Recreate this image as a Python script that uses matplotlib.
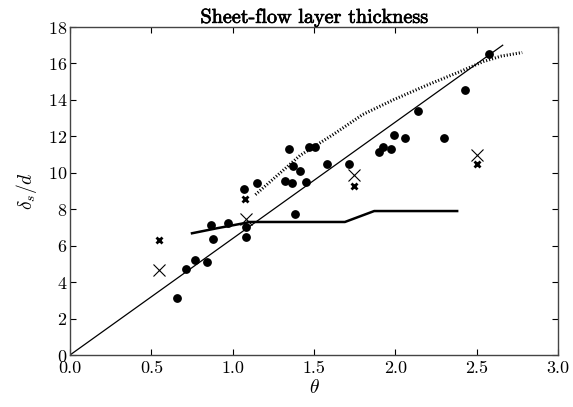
import numpy as np
import matplotlib
matplotlib.use('Agg')
import matplotlib.pyplot as plt
import matplotlib.patheffects as pe

plt.rcParams['font.family'] = 'serif'
plt.rcParams['font.serif'] = ['cmr10']
plt.rcParams['mathtext.fontset'] = 'cm'
plt.rcParams['axes.formatter.use_mathtext'] = True
plt.rcParams['lines.scale_dashes'] = False

# measured data (dots)
dots_x = [0.658, 0.713, 0.768, 0.842, 0.867, 0.877, 0.973, 1.071, 1.082, 1.082,
          1.147, 1.321, 1.344, 1.362, 1.373, 1.383, 1.416, 1.448, 1.471, 1.506,
          1.578, 1.717, 1.899, 1.922, 1.973, 1.989, 2.061, 2.139, 2.299, 2.430, 2.573]
dots_y = [3.15, 4.73, 5.20, 5.09, 7.12, 6.39, 7.23, 9.12, 7.01, 6.50,
          9.43, 9.56, 11.32, 9.43, 10.35, 7.73, 10.09, 9.52, 11.41, 11.41,
          10.49, 10.49, 11.12, 11.41, 11.28, 12.09, 11.89, 13.41, 11.89, 14.56, 16.50]

# bold small crosses
xs_small = [0.549, 1.078, 1.748, 2.50]
ys_small = [6.32, 8.57, 9.30, 10.46]

# thin large crosses
xs_large = [0.549, 1.082, 1.748, 2.50]
ys_large = [4.67, 7.47, 9.89, 10.99]

# thin fit line
fit_x = [0.0, 2.66]
fit_y = [0.0, 17.0]

# thick solid model line
model_x = [0.75, 0.9, 1.08, 1.1, 1.69, 1.87, 2.38]
model_y = [6.68, 6.95, 7.25, 7.3, 7.3, 7.9, 7.9]

# dotted model line
dot_x = [1.14, 1.414, 1.618, 1.8, 1.987, 2.192, 2.397, 2.54, 2.65, 2.78]
dot_y = [8.8, 10.95, 12.1, 13.2, 14.0, 14.8, 15.55, 16.1, 16.4, 16.6]

fig = plt.figure(figsize=(5.73, 4.07), dpi=100)
ax = fig.add_axes([70 / 573, 52 / 407, 488 / 573, 328 / 407])

ax.plot(fit_x, fit_y, '-', color='k', lw=0.9)
ax.plot(model_x, model_y, '-', color='k', lw=1.8)
ax.plot(dot_x, dot_y, color='k', lw=2.2, linestyle=(0, (0.8, 1.4)))
ax.plot(dots_x, dots_y, 'o', color='k', ms=5.3, mec='k')
ax.plot(xs_small, ys_small, 'x', color='k', ms=4.5, mew=2)
ax.plot(xs_large, ys_large, 'x', color='k', ms=9, mew=0.8)

ax.set_xlim(0, 3)
ax.set_ylim(0, 18)
ax.set_xticks(np.arange(0, 3.01, 0.5))
ax.set_xticklabels(['%.1f' % v for v in np.arange(0, 3.01, 0.5)])
ax.set_yticks(np.arange(0, 19, 2))
ax.tick_params(direction='in', top=True, right=True, length=4, labelsize=13)
ax.tick_params(axis='x', pad=4)
ax.tick_params(axis='y', pad=2)
for s in ax.spines.values():
    s.set_color('#444444')
    s.set_linewidth(1.0)

ax.set_xlabel(r'$\theta$', fontsize=14, labelpad=2)
ax.set_ylabel(r'$\delta_s/d$', fontsize=14, labelpad=6)
t = ax.set_title('Sheet-flow layer thickness', fontsize=14.5, pad=3)
t.set_path_effects([pe.withStroke(linewidth=0.5, foreground='k')])

fig.savefig('out.png', dpi=100)
